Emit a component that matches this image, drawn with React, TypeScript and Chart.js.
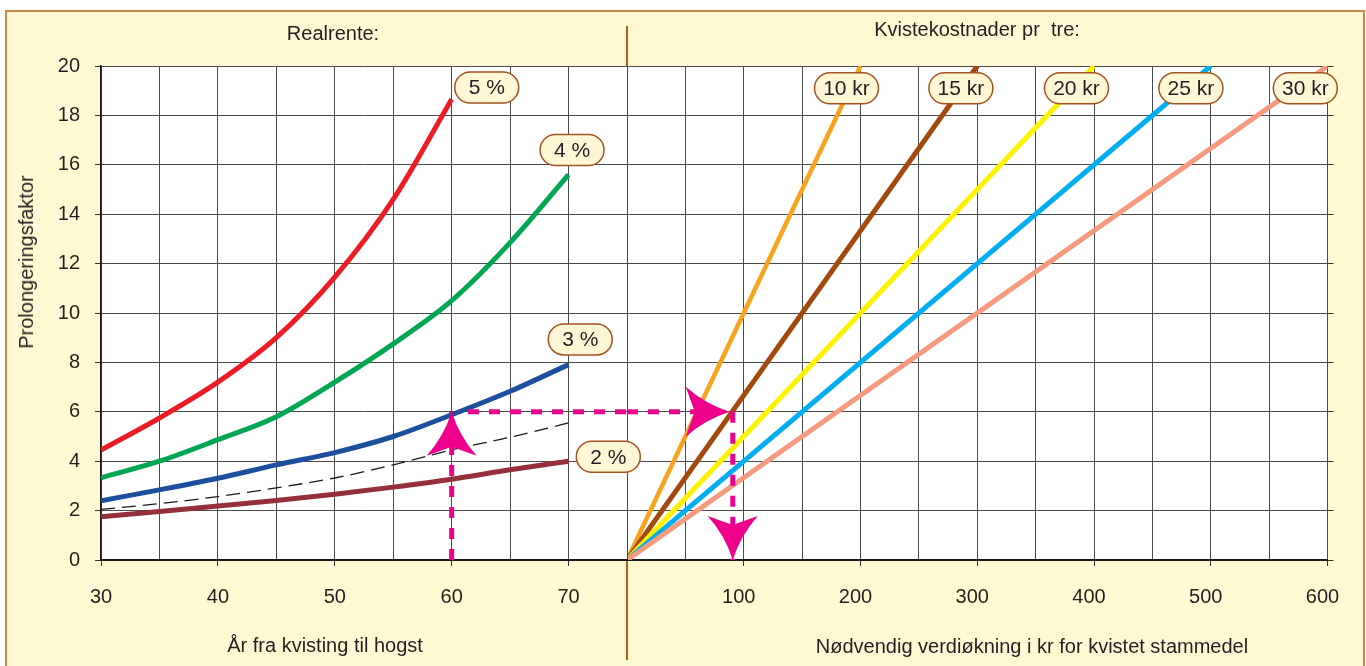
import React, { useEffect, useRef } from "react";
import { Chart, registerables } from "chart.js";

Chart.register(...registerables);

const FONT = "'Liberation Sans', Arial, Helvetica, sans-serif";
const TEXT = "#231f20";
const GRID = "#4a4a4a";
const AXIS = "#1a1a1a";

// ---------- Left panel: Realrente ----------
const years = [30, 35, 40, 45, 50, 55, 60, 65, 70];
const years5 = [30, 35, 40, 45, 50, 55, 60];
const rente5 = [4.45, 5.75, 7.2, 9.0, 11.45, 14.6, 18.65];
const rente4 = [3.33, 4.0, 4.87, 5.8, 7.2, 8.75, 10.5, 12.85, 15.6];
const rente3 = [2.4, 2.84, 3.31, 3.85, 4.35, 5.0, 5.88, 6.83, 7.91];
const rente2 = [1.75, 1.96, 2.19, 2.41, 2.66, 2.95, 3.27, 3.65, 4.0];
const renteRef = [2.05, 2.28, 2.57, 2.92, 3.32, 3.85, 4.46, 4.97, 5.55];
const renteLabels = ["5 %", "4 %", "3 %", "2 %"];
const renteLabelX = [63, 70.3, 71.0, 73.4];
const renteLabelY = [19.13, 16.6, 8.93, 4.18];

// ---------- Right panel: Kvistekostnader pr tre ----------
const kvistLabels = ["10 kr", "15 kr", "20 kr", "25 kr", "30 kr"];
const kvistColors = ["#f8a31b", "#a3490d", "#fff200", "#00aeef", "#f59a7d"];
const kvistTopX = [200, 300, 400, 500, 600];
const kvistTopY = [20, 20, 20, 20, 20];
const kvistLabelX = [188, 286, 385, 483, 581];
const kvistLabelY = [19.1, 19.1, 19.1, 19.1, 19.1];

// ---------- Example reading (magenta arrows) ----------
const exYear = 60;
const exFactor = 6;
const exDashStart = 61.4;
const exArrowTip = 88;
const exValue = 90.6;

const MAGENTA = "#ec008c";

const bgPlugin = {
  id: "plotBg",
  beforeDraw(chart: any) {
    const { ctx, chartArea: a } = chart;
    ctx.save();
    ctx.fillStyle = "#ffffff";
    ctx.fillRect(a.left, a.top, a.right - a.left, a.bottom - a.top);
    ctx.restore();
  },
};

const arrowPlugin = {
  id: "arrowHeads",
  afterDatasetsDraw(chart: any) {
    const ctx = chart.ctx;
    chart.data.datasets.forEach((ds: any, i: number) => {
      if (!ds.arrowHead) return;
      const pts = chart.getDatasetMeta(i).data;
      const a = pts[pts.length - 2];
      const b = pts[pts.length - 1];
      const ang = Math.atan2(b.y - a.y, b.x - a.x);
      const L = 44, W = 25, N = 9;
      ctx.save();
      ctx.translate(b.x, b.y);
      ctx.rotate(ang);
      ctx.beginPath();
      ctx.moveTo(0, 0);
      ctx.quadraticCurveTo(-L * 0.55, -W * 0.3, -L, -W);
      ctx.lineTo(-L + N, 0);
      ctx.lineTo(-L, W);
      ctx.quadraticCurveTo(-L * 0.55, W * 0.3, 0, 0);
      ctx.closePath();
      ctx.fillStyle = ds.borderColor;
      ctx.fill();
      ctx.restore();
    });
  },
};

function makePillPlugin(id: string, texts: string[], xs: number[], ys: number[]) {
  return {
    id,
    afterDatasetsDraw(chart: any) {
      const { ctx, scales } = chart;
      const w = 64, h = 31, r = h / 2;
      ctx.save();
      texts.forEach((t, i) => {
        const cx = scales.x.getPixelForValue(xs[i]);
        const cy = scales.y.getPixelForValue(ys[i]);
        const x0 = cx - w / 2, y0 = cy - h / 2;
        ctx.beginPath();
        ctx.moveTo(x0 + r, y0);
        ctx.lineTo(x0 + w - r, y0);
        ctx.arc(x0 + w - r, cy, r, -Math.PI / 2, Math.PI / 2);
        ctx.lineTo(x0 + r, y0 + h);
        ctx.arc(x0 + r, cy, r, Math.PI / 2, (3 * Math.PI) / 2);
        ctx.closePath();
        ctx.fillStyle = "#fef7d6";
        ctx.fill();
        ctx.lineWidth = 1.5;
        ctx.strokeStyle = "#a4521c";
        ctx.stroke();
        ctx.fillStyle = TEXT;
        ctx.font = `21px ${FONT}`;
        ctx.textAlign = "center";
        ctx.textBaseline = "middle";
        ctx.fillText(t, cx, cy + 1);
      });
      ctx.restore();
    },
  };
}

const tickFont = { family: FONT, size: 20 };

function pts(xs: number[], ys: number[]) {
  return ys.map((y, i) => ({ x: xs[i], y }));
}

function curve(data: any[], color: string, order: number) {
  return {
    data,
    borderColor: color,
    borderWidth: 5,
    cubicInterpolationMode: "monotone",
    pointRadius: 0,
    order,
  };
}

export default function App() {
  const leftRef = useRef<HTMLCanvasElement>(null);
  const rightRef = useRef<HTMLCanvasElement>(null);

  useEffect(() => {
    const left = new Chart(leftRef.current as HTMLCanvasElement, {
      type: "line",
      data: {
        datasets: [
          {
            data: [{ x: exYear, y: 0 }, { x: exYear, y: exFactor }],
            borderColor: MAGENTA,
            borderWidth: 5,
            borderDash: [11, 10],
            pointRadius: 0,
            arrowHead: true,
            order: 0,
          } as any,
          {
            data: [{ x: exDashStart, y: exFactor }, { x: 75, y: exFactor }],
            borderColor: MAGENTA,
            borderWidth: 5,
            borderDash: [11, 10],
            pointRadius: 0,
            order: 0,
          },
          curve(pts(years5, rente5), "#ed1c24", 2),
          curve(pts(years, rente4), "#00a651", 2),
          curve(pts(years, rente3), "#1d4f9c", 2),
          curve(pts(years, rente2), "#95303a", 2),
          {
            data: pts(years, renteRef),
            borderColor: "#1a1a1a",
            borderWidth: 1.3,
            borderDash: [14, 7],
            pointRadius: 0,
            cubicInterpolationMode: "monotone",
            order: 3,
          },
        ] as any,
      },
      options: {
        responsive: false,
        animation: false,
        events: [],
        layout: { autoPadding: false, padding: { left: 0, top: 66, right: 33, bottom: 0 } },
        plugins: { legend: { display: false }, tooltip: { enabled: false } },
        scales: {
          x: {
            type: "linear",
            min: 30,
            max: 75,
            afterFit: (s: any) => { s.height = 106; },
            ticks: {
              stepSize: 5,
              maxTicksLimit: 100,
              autoSkip: false,
              maxRotation: 0,
              padding: 19,
              font: tickFont,
              color: TEXT,
              callback: (v: any) => (v % 10 === 0 && v <= 70 ? String(v) : ""),
            },
            grid: {
              color: GRID,
              lineWidth: 1,
              tickLength: 6,
              tickColor: (c: any) =>
                c.tick && c.tick.value % 10 === 0 && c.tick.value <= 70 ? "#333" : "rgba(0,0,0,0)",
            },
            border: { color: AXIS, width: 2 },
          },
          y: {
            min: 0,
            max: 20,
            afterFit: (s: any) => { s.width = 101; },
            ticks: { stepSize: 2, padding: 15, font: tickFont, color: TEXT },
            grid: { color: GRID, lineWidth: 1, tickLength: 6, tickColor: "#333" },
            border: { color: AXIS, width: 1.5 },
          },
        },
      } as any,
      plugins: [bgPlugin, arrowPlugin, makePillPlugin("pillsLeft", renteLabels, renteLabelX, renteLabelY)],
    });

    const right = new Chart(rightRef.current as HTMLCanvasElement, {
      type: "line",
      data: {
        datasets: [
          {
            data: [{ x: 0, y: exFactor }, { x: exArrowTip, y: exFactor }],
            borderColor: MAGENTA,
            borderWidth: 5,
            borderDash: [11, 10],
            pointRadius: 0,
            arrowHead: true,
            order: 0,
          } as any,
          {
            data: [{ x: exValue, y: exFactor }, { x: exValue, y: 0 }],
            borderColor: MAGENTA,
            borderWidth: 5,
            borderDash: [11, 10],
            pointRadius: 0,
            arrowHead: true,
            order: 0,
          } as any,
          ...kvistLabels.map((lab, i) => ({
            label: lab,
            data: [{ x: 0, y: 0 }, { x: kvistTopX[i], y: kvistTopY[i] }],
            borderColor: kvistColors[i],
            borderWidth: i === 0 ? 4.5 : 5,
            pointRadius: 0,
            order: 10 - i,
          })),
        ] as any,
      },
      options: {
        responsive: false,
        animation: false,
        events: [],
        layout: { autoPadding: false, padding: { left: 27, top: 66, right: 32.5, bottom: 0 } },
        plugins: { legend: { display: false }, tooltip: { enabled: false } },
        scales: {
          x: {
            type: "linear",
            min: 0,
            max: 600,
            afterFit: (s: any) => { s.height = 106; },
            ticks: {
              stepSize: 50,
              maxTicksLimit: 100,
              autoSkip: false,
              maxRotation: 0,
              padding: 19,
              labelOffset: -5,
              font: tickFont,
              color: TEXT,
              callback: (v: any) => (v > 0 && v % 100 === 0 ? String(v) : ""),
            },
            grid: {
              color: GRID,
              lineWidth: 1,
              tickLength: 6,
              tickColor: (c: any) =>
                c.tick && c.tick.value > 0 && c.tick.value % 100 === 0 ? "#333" : "rgba(0,0,0,0)",
            },
            border: { color: AXIS, width: 2 },
          },
          y: {
            min: 0,
            max: 20,
            position: "left",
            afterFit: (s: any) => { s.width = 0; },
            ticks: { stepSize: 2, display: false },
            grid: { color: GRID, lineWidth: 1, drawTicks: false },
            border: { display: false },
          },
          y2: {
            min: 0,
            max: 20,
            position: "right",
            afterFit: (s: any) => { s.width = 6; },
            ticks: { stepSize: 2, display: false },
            grid: { drawOnChartArea: false, tickLength: 6, tickColor: "#333" },
            border: { display: false },
          },
        },
      } as any,
      plugins: [bgPlugin, arrowPlugin, makePillPlugin("pillsRight", kvistLabels, kvistLabelX, kvistLabelY)],
    });

    return () => {
      left.destroy();
      right.destroy();
    };
  }, []);

  const txt = (s: string, x: number, y: number, extra: any = {}) => (
    <div
      style={{
        position: "absolute",
        left: x,
        top: y,
        transform: "translate(-50%, -50%)" + (extra.rotate ? " rotate(-90deg)" : ""),
        whiteSpace: "pre",
        fontFamily: FONT,
        fontSize: 20,
        lineHeight: "20px",
        color: TEXT,
        zIndex: 5,
      }}
    >
      {s}
    </div>
  );

  return (
    <div style={{ position: "absolute", left: 0, top: 0, width: 1366, height: 666, overflow: "hidden" }}>
      <div
        style={{
          position: "absolute",
          left: 5,
          top: 10,
          width: 1360,
          height: 700,
          boxSizing: "border-box",
          border: "2px solid #c8874b",
          background: "#fef9d3",
        }}
      />
      <canvas
        ref={rightRef}
        width={766}
        height={666}
        style={{ position: "absolute", left: 600, top: 0, width: 766, height: 666, zIndex: 1 }}
      />
      <div
        style={{ position: "absolute", left: 626, top: 26, width: 2, height: 634, background: "#ad611f", zIndex: 2 }}
      />
      <canvas
        ref={leftRef}
        width={660}
        height={666}
        style={{ position: "absolute", left: 0, top: 0, width: 660, height: 666, zIndex: 3 }}
      />
      {txt("Realrente:", 333, 33)}
      {txt("Kvistekostnader pr  tre:", 977, 29)}
      {txt("År fra kvisting til hogst", 325, 645)}
      {txt("Nødvendig verdiøkning i kr for kvistet stammedel", 1032, 646)}
      {txt("Prolongeringsfaktor", 26, 262, { rotate: true })}
    </div>
  );
}
